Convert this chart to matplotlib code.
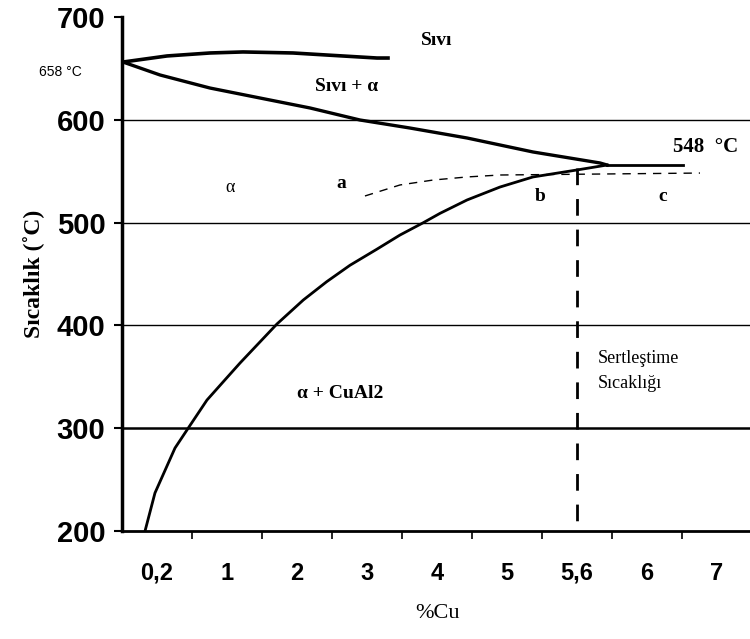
import numpy as np
import matplotlib
matplotlib.use("Agg")
import matplotlib.pyplot as plt

# x axis is categorical (Excel style): 9 equal slots, curves drawn in slot units
cu_labels = ["0,2", "1", "2", "3", "4", "5", "5,6", "6", "7"]
y_ticks = [200, 300, 400, 500, 600, 700]
grid_levels = [300, 400, 500, 600]

# liquid boundary (top, Sıvı)
liq_top_x = [0.014, 0.643, 1.257, 1.729, 2.443, 2.929, 3.643, 3.8]
liq_top_T = [656.2, 662.1, 665.0, 666.0, 665.0, 663.0, 660.1, 660.1]

# liquidus down to eutectic
liquidus_x = [0.014, 0.543, 1.257, 1.971, 2.686, 3.4, 4.114, 4.929, 5.871, 6.829, 6.929]
liquidus_T = [656.2, 643.6, 630.9, 621.2, 611.5, 599.8, 592.0, 582.3, 568.7, 558.0, 556.0]

# eutectic line (548 °C)
eut_x = [6.929, 8.014]
eut_T = [556, 556]

# solvus
solvus_x = [0.329, 0.471, 0.757, 0.957, 1.214, 1.443, 1.686, 1.929, 2.214, 2.59,
            2.924, 3.257, 3.638, 3.971, 4.304, 4.543, 4.929, 5.4, 5.871, 6.5, 6.929]
solvus_T = [200, 237.0, 280.7, 301.2, 327.4, 344.9, 363.4, 380.9, 401.4, 424.7,
            442.5, 458.5, 474.0, 487.9, 499.9, 509.0, 522.0, 534.6, 544.4, 551.2, 556]

# dashed curve a-b-c
dash_x = [3.471, 3.971, 4.443, 4.929, 5.4, 8.257]
dash_T = [525.9, 536.6, 541.4, 544.4, 546.3, 548.2]

# hardening temperature marker at 5,6 %Cu
hard_x = 6.5
hard_T = [553, 200]

fig = plt.figure(figsize=(7.5, 6.39), dpi=100)
ax = fig.add_axes([122 / 750, 1 - 531 / 639, 630 / 750, 514 / 639])

for g in grid_levels:
    lw = 1.8 if g == 300 else 1.0
    ax.axhline(g, color="black", lw=lw, zorder=1)

ax.plot(liq_top_x, liq_top_T, color="black", lw=2.6)
ax.plot(liquidus_x, liquidus_T, color="black", lw=2.4)
ax.plot(eut_x, eut_T, color="black", lw=2.0)
ax.plot(solvus_x, solvus_T, color="black", lw=2.0)
ax.plot(dash_x, dash_T, color="black", lw=1.0, ls=(0, (6, 5)))
ax.plot([hard_x, hard_x], hard_T, color="black", lw=2.0, ls=(0, (6, 5)))

ax.set_xlim(0, 9)
ax.set_ylim(200, 700)
ax.set_yticks(y_ticks)
ax.set_yticklabels([str(v) for v in y_ticks], fontsize=21, fontweight="bold",
                   family="Liberation Sans")
ax.set_xticks(np.arange(len(cu_labels)) + 0.5)
ax.set_xticklabels(cu_labels, fontsize=17, fontweight="bold", family="Liberation Sans")
ax.set_xticks(np.arange(1, len(cu_labels)), minor=True)
ax.tick_params(axis="x", which="major", length=0, pad=22)
ax.tick_params(axis="x", which="minor", length=6, width=1.2, direction="out")
ax.tick_params(axis="y", length=6, width=1.5, pad=6)

for s in ["top", "right"]:
    ax.spines[s].set_visible(False)
ax.spines["left"].set_linewidth(2.5)
ax.spines["bottom"].set_linewidth(2.0)

ax.set_xlabel("%Cu", fontsize=16, family="Liberation Serif", labelpad=14)
ax.set_ylabel("Sıcaklık (˚C)", fontsize=17, fontweight="bold", family="Liberation Serif",
              labelpad=8)

serif_b = dict(family="Liberation Serif", fontweight="bold", ha="center", va="center")
ax.text(4.5, 677.6, "Sıvı", fontsize=14, **serif_b)
ax.text(3.21, 632, "Sıvı + α", fontsize=14, **serif_b)
ax.text(8.34, 573.5, "548  °C", fontsize=15, **serif_b)
ax.text(1.54, 534.6, "α", fontsize=13, family="Liberation Serif", ha="center", va="center")
ax.text(3.13, 538.5, "a", fontsize=14, **serif_b)
ax.text(5.97, 525, "b", fontsize=14, **serif_b)
ax.text(7.73, 525, "c", fontsize=14, **serif_b)
ax.text(3.11, 334, "α + CuAl2", fontsize=14, **serif_b)
ax.text(6.79, 368, "Sertleştime", fontsize=13, family="Liberation Serif", ha="left", va="center")
ax.text(6.79, 343, "Sıcaklığı", fontsize=13, family="Liberation Serif", ha="left", va="center")
ax.text(-0.886, 646.5, "658 °C", fontsize=10, family="Liberation Sans", ha="center",
        va="center", clip_on=False)

fig.savefig("out.png", dpi=100)
